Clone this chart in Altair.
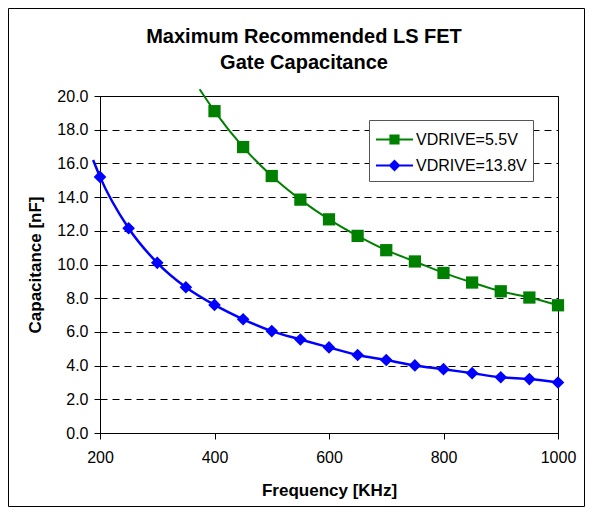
import altair as alt
import pandas as pd

# ---- data ----
freq_blue = [200, 250, 300, 350, 400, 450, 500, 550, 600, 650, 700, 750, 800, 850, 900, 950, 1000]
cap_blue = [15.2, 12.15, 10.1, 8.65, 7.6, 6.75, 6.05, 5.55, 5.08, 4.63, 4.33, 4.01, 3.79, 3.55, 3.31, 3.2, 3.0]
freq_green = [400, 450, 500, 550, 600, 650, 700, 750, 800, 850, 900, 950, 1000]
cap_green = [19.1, 16.97, 15.25, 13.85, 12.68, 11.7, 10.85, 10.18, 9.5, 8.93, 8.41, 8.04, 7.58]
# where each curve leaves the plot (line only, no marker)
lead_blue = (188, 16.2)
lead_green = (374, 20.4)

series_names = ["VDRIVE=5.5V", "VDRIVE=13.8V"]
series_colors = ["#008000", "#0000FF"]
y_ticks = [0, 2, 4, 6, 8, 10, 12, 14, 16, 18, 20]
x_ticks = [200, 400, 600, 800, 1000]

pts_green = pd.DataFrame({"f": freq_green, "c": cap_green, "series": series_names[0]})
pts_blue = pd.DataFrame({"f": freq_blue, "c": cap_blue, "series": series_names[1]})
line_green = pd.DataFrame({"f": [lead_green[0]] + freq_green, "c": [lead_green[1]] + cap_green})
line_blue = pd.DataFrame({"f": [lead_blue[0]] + freq_blue, "c": [lead_blue[1]] + cap_blue})
pts_all = pd.concat([pts_green, pts_blue], ignore_index=True)

FONT = "Liberation Sans"
W, H = 458, 337

xs = alt.Scale(domain=[200, 1000], nice=False, zero=False)
ys = alt.Scale(domain=[0, 20], nice=False)

x_axis = alt.Axis(values=x_ticks, format="d", grid=False, title="Frequency [KHz]",
                  titleY=57, titleBaseline="middle", labelPadding=10, labelFlush=False)
y_axis = alt.Axis(values=y_ticks, format=".1f", grid=True, gridDash=[7, 5], gridColor="#000000",
                  gridWidth=1, title="Capacitance [nF]", titleX=-65, titleY=H / 2,
                  titleAngle=-90, titleAlign="center", titleBaseline="middle", labelPadding=6,
                  labelFlush=False)

X = alt.X("f:Q", scale=xs, axis=x_axis)
Y = alt.Y("c:Q", scale=ys, axis=y_axis)

green_line = alt.Chart(line_green).mark_line(color=series_colors[0], strokeWidth=2,
                                             interpolate="monotone").encode(x=X, y=Y)
blue_line = alt.Chart(line_blue).mark_line(color=series_colors[1], strokeWidth=2.5,
                                           interpolate="monotone").encode(x=X, y=Y)
green_pts = alt.Chart(pts_green).mark_point(shape="square", filled=True, size=150, opacity=1,
                                            color=series_colors[0]).encode(x=X, y=Y)
blue_pts = alt.Chart(pts_blue).mark_point(shape="diamond", filled=True, size=160, opacity=1,
                                          color=series_colors[1]).encode(x=X, y=Y)

sq = "M-1.5,0H1.5M-0.33,-0.33H0.33V0.33H-0.33Z"
dm = "M-1.5,0H1.5M0,-0.37L0.37,0L0,0.37L-0.37,0Z"
leg = alt.Legend(title=None, orient="none", legendX=269, legendY=24, fillColor="white",
                 strokeColor="#555555", padding=6, labelFontSize=16, labelFont=FONT,
                 labelColor="black", symbolSize=610, symbolStrokeWidth=2, symbolOpacity=1,
                 rowPadding=4, labelOffset=8, symbolOffset=6)
legend_layer = alt.Chart(pts_all).mark_point(opacity=0, strokeWidth=2).encode(
    x=X, y=Y,
    fill=alt.Fill("series:N", scale=alt.Scale(domain=series_names, range=series_colors), legend=leg),
    stroke=alt.Stroke("series:N", scale=alt.Scale(domain=series_names, range=series_colors), legend=leg),
    shape=alt.Shape("series:N", scale=alt.Scale(domain=series_names, range=[sq, dm]), legend=leg),
)

frame = alt.Chart(pd.DataFrame({"k": [0]})).mark_rect(fill="transparent", stroke="black",
                                                      strokeWidth=1).encode(
    x=alt.value(-91.5), x2=alt.value(W + 26.5), y=alt.value(-87.5), y2=alt.value(H + 73.5))

chart = alt.layer(frame, green_line, blue_line, green_pts, blue_pts, legend_layer).properties(
    width=W, height=H,
    title=alt.TitleParams(["Maximum Recommended LS FET", "Gate Capacitance"], fontSize=20,
                          font=FONT, fontWeight="bold", color="black", anchor="middle",
                          frame="group", dx=-25, offset=0, dy=65, lineHeight=26),
    autosize=alt.AutoSizeParams(type="none"),
    padding={"left": 92, "top": 88, "right": 28, "bottom": 75},
).configure_view(stroke="black", strokeWidth=1).configure_axis(
    labelFont=FONT, labelFontSize=16, labelColor="black", tickColor="black", tickSize=6,
    domainColor="black", titleFont=FONT, titleFontSize=17, titleFontWeight="bold",
    titleColor="black",
)

chart.save("out.html", embed_options={"renderer": "svg", "actions": False})
